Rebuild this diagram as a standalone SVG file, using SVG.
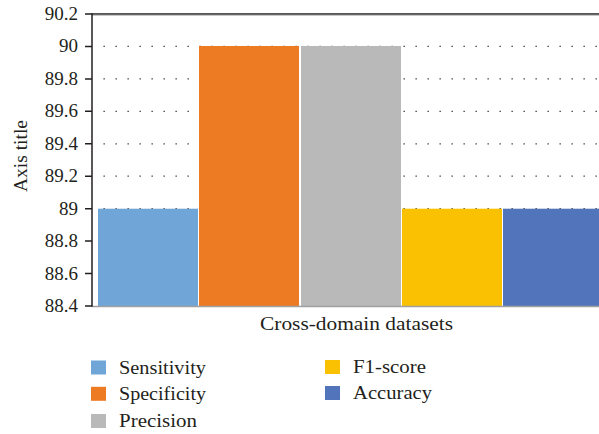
<svg xmlns="http://www.w3.org/2000/svg" width="599" height="434" viewBox="0 0 599 434">
<style>
text{font-family:"Liberation Serif","Times New Roman",serif;fill:#231f20;font-size:19px}
.tick{text-anchor:end}
.grid{stroke:#333;stroke-width:1.3;stroke-dasharray:1.3 10.7}
.axis{stroke:#231f20;stroke-width:1.5;fill:none}
</style>
<rect width="599" height="434" fill="#fff"/>
<g id="grid">
<line class="grid" x1="103.5" y1="46.4" x2="599" y2="46.4"/>
<line class="grid" x1="103.5" y1="78.9" x2="599" y2="78.9"/>
<line class="grid" x1="103.5" y1="111.3" x2="599" y2="111.3"/>
<line class="grid" x1="103.5" y1="143.8" x2="599" y2="143.8"/>
<line class="grid" x1="103.5" y1="176.2" x2="599" y2="176.2"/>
<line class="grid" x1="103.5" y1="208.7" x2="599" y2="208.7"/>
</g>
<g id="bars">
<rect id="bar-sensitivity" x="98" y="208.7" width="100" height="97.8" fill="#70A5D7"/>
<rect id="bar-specificity" x="199" y="46" width="100" height="260.5" fill="#ED7B24"/>
<rect id="bar-precision" x="301" y="46" width="100" height="260.5" fill="#B9B9B9"/>
<rect id="bar-f1" x="402" y="208.7" width="100" height="97.8" fill="#FAC002"/>
<rect id="bar-accuracy" x="503" y="208.7" width="96" height="97.8" fill="#5274BA"/>
</g>
<g id="axes">
<line x1="92" y1="306.5" x2="599" y2="306.5" stroke="#a0a0a0" stroke-width="1.5"/>
<line x1="92" y1="14" x2="599" y2="14" stroke="#231f20" stroke-width="1.6"/>
<line x1="92" y1="15.2" x2="599" y2="15.2" stroke="#999" stroke-width="0.8"/>
<line class="axis" x1="92" y1="13.3" x2="92" y2="306.8"/>
<path class="axis" d="M85 14H92M85 46.4H92M85 78.9H92M85 111.3H92M85 143.8H92M85 176.2H92M85 208.7H92M85 241.1H92M85 273.6H92M85 306H92"/>
</g>
<g id="ticks">
<text class="tick" x="78" y="20">90.2</text>
<text class="tick" x="78" y="52.4">90</text>
<text class="tick" x="78" y="84.9">89.8</text>
<text class="tick" x="78" y="117.3">89.6</text>
<text class="tick" x="78" y="149.8">89.4</text>
<text class="tick" x="78" y="182.2">89.2</text>
<text class="tick" x="78" y="214.7">89</text>
<text class="tick" x="78" y="247.1">88.8</text>
<text class="tick" x="78" y="279.6">88.6</text>
<text class="tick" x="78" y="312">88.4</text>
</g>
<text id="y-title" transform="translate(27 156) rotate(-90)" text-anchor="middle" textLength="72" lengthAdjust="spacingAndGlyphs">Axis title</text>
<text id="x-title" x="260" y="330" textLength="193" lengthAdjust="spacingAndGlyphs">Cross-domain datasets</text>
<g id="legend">
<g id="leg-sensitivity"><rect x="91" y="360.5" width="15" height="14" fill="#70A5D7"/><text x="119" y="373.5" textLength="87" lengthAdjust="spacingAndGlyphs">Sensitivity</text></g>
<g id="leg-specificity"><rect x="91" y="386.8" width="15" height="14" fill="#ED7B24"/><text x="119" y="399.8" textLength="87" lengthAdjust="spacingAndGlyphs">Specificity</text></g>
<g id="leg-precision"><rect x="91" y="414" width="15" height="14" fill="#B9B9B9"/><text x="119" y="427" textLength="78" lengthAdjust="spacingAndGlyphs">Precision</text></g>
<g id="leg-f1"><rect x="325" y="360" width="15" height="14" fill="#FAC002"/><text x="353" y="373" textLength="73" lengthAdjust="spacingAndGlyphs">F1-score</text></g>
<g id="leg-accuracy"><rect x="325" y="386" width="15" height="14" fill="#5274BA"/><text x="353" y="399" textLength="79" lengthAdjust="spacingAndGlyphs">Accuracy</text></g>
</g>
</svg>
